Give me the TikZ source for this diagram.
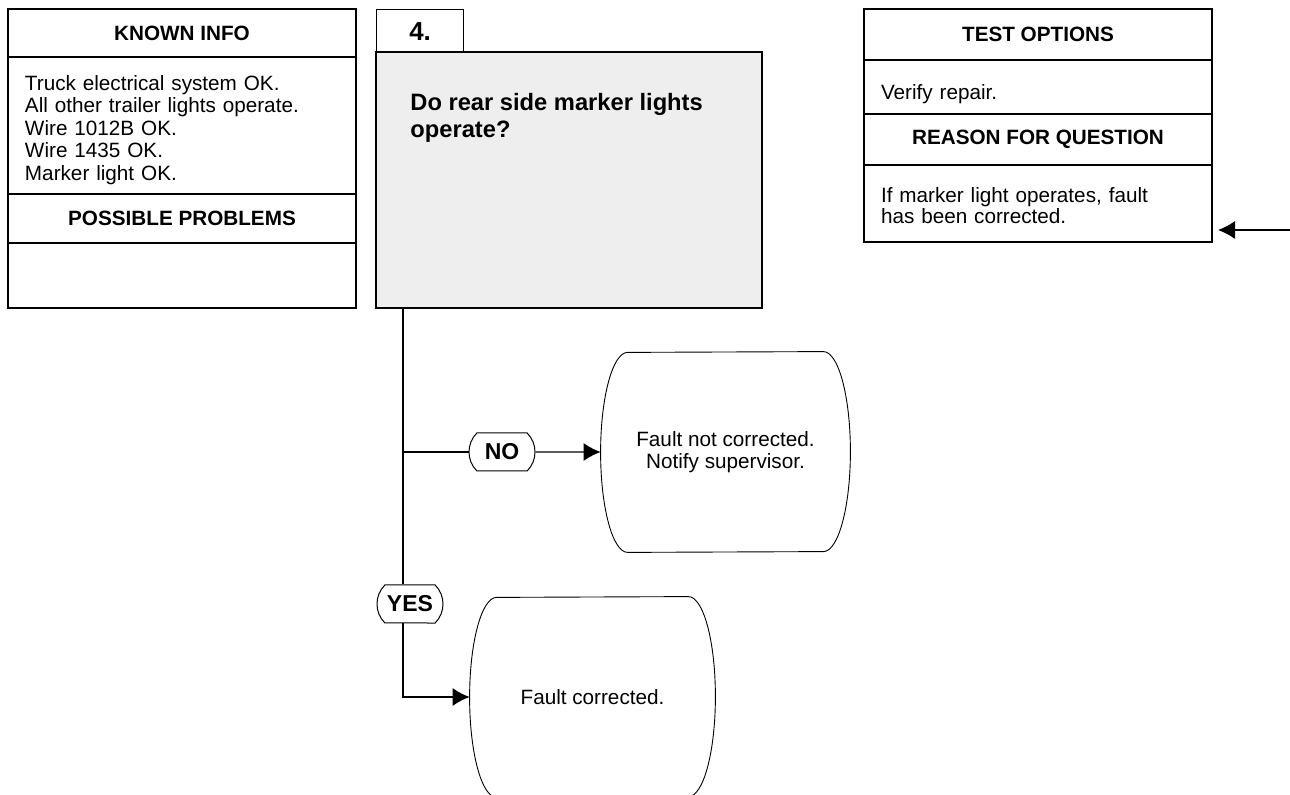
\documentclass[tikz,border=0pt]{standalone}
\usepackage{fontspec}
\setmainfont{Liberation Sans}
\usetikzlibrary{arrows.meta,positioning,calc,shapes.misc}
\definecolor{qgray}{HTML}{EEEEEE}
\newcommand\boxfont{\fontsize{10.35}{11.25}\selectfont}
\newcommand\firstline[1]{\rule{0pt}{#1}}

\begin{document}
\begin{tikzpicture}[x=0.5pt,y=-0.5pt,>={Latex[length=8.5pt,width=9pt]},
  hdr/.style={draw,line width=0.6pt,minimum width=174pt,inner sep=0pt,outer sep=0pt,font=\boxfont\bfseries},
  txt/.style={draw,line width=0.6pt,text width=157pt,inner xsep=8.5pt,inner ysep=0pt,outer sep=0pt,align=left,font=\boxfont},
  term/.style={minimum width=124.5pt,minimum height=100pt,inner sep=0pt,align=center,font=\boxfont},
  ans/.style={draw,line width=0.5pt,rounded rectangle,rounded rectangle arc length=90,minimum width=33pt,minimum height=19pt,inner sep=0pt,font=\fontsize{11.5}{12}\selectfont\bfseries}]
\useasboundingbox (0,0) rectangle (1290,795);

\node[hdr,minimum height=24pt,anchor=north west] (known) at (8,9) {KNOWN INFO};
\node[txt,minimum height=68.5pt,below=0pt of known] (knownbody) {\firstline{12pt}Truck electrical system OK.\\All other trailer lights operate.\\Wire 1012B OK.\\Wire 1435 OK.\\Marker light OK.};
\node[hdr,minimum height=24.5pt,below=0pt of knownbody] (problems) {POSSIBLE PROBLEMS};
\node[txt,minimum height=32.5pt,below=0pt of problems] (problemsbody) {};

\node[draw,line width=0.6pt,minimum width=43.5pt,minimum height=21.5pt,inner sep=0pt,anchor=north west,font=\fontsize{13}{13}\selectfont\bfseries] (qnum) at (376,9) {4.};
\node[draw,fill=qgray,line width=0.6pt,minimum width=193pt,minimum height=128pt,outer sep=0pt,anchor=north west] (quest) at (376,52) {};
\node[anchor=north west,align=left,inner sep=0pt,font=\fontsize{11.85}{13.5}\selectfont\bfseries] (qtext) at ($(quest.north west)+(34,41)$) {Do rear side marker lights\\operate?};

\node[hdr,minimum height=25.5pt,anchor=north west] (tests) at (864,9) {TEST OPTIONS};
\node[txt,minimum height=27pt,below=0pt of tests] (testsbody) {\firstline{14.5pt}Verify repair.};
\node[hdr,minimum height=25.5pt,below=0pt of testsbody] (reason) {REASON FOR QUESTION};
\node[txt,minimum height=38.5pt,below=0pt of reason] (reasonbody) {\firstline{9.5pt}If marker light operates, fault\\[-0.75pt]has been corrected.};

\node[ans] (no) at (502,452) {NO};
\node[term] (notfixed) at (725.5,452) {Fault not corrected.\\Notify supervisor.};
\node[ans] (yes) at (410,604) {YES};
\node[term,minimum width=122.5pt] (fixed) at (592.5,697) {Fault corrected.};

\foreach \t in {notfixed,fixed}
  \draw[line width=0.45pt] ($(\t.north east)+(-27,0)$) arc[start angle=90,end angle=-90,x radius=13.5pt,y radius=50pt]
    -- ($(\t.south west)+(27,0)$) arc[start angle=270,end angle=90,x radius=13.5pt,y radius=50pt] -- cycle;

\coordinate (trunk) at ($(quest.south west)+(27,0)$);
\coordinate (feed) at (1290,230);
\coordinate (feedtip) at ($(reasonbody.south east)+(6,-12)$);

\draw[line width=0.6pt] (trunk) -- (trunk |- yes.north);
\draw[line width=0.6pt,->] (trunk |- yes.south) |- (fixed.west);
\draw[line width=0.6pt] (trunk |- no) -- (no);
\draw[line width=0.6pt,->] (no) -- (notfixed);
\draw[line width=0.6pt,->] (feed) -- (feedtip);
\end{tikzpicture}
\end{document}
